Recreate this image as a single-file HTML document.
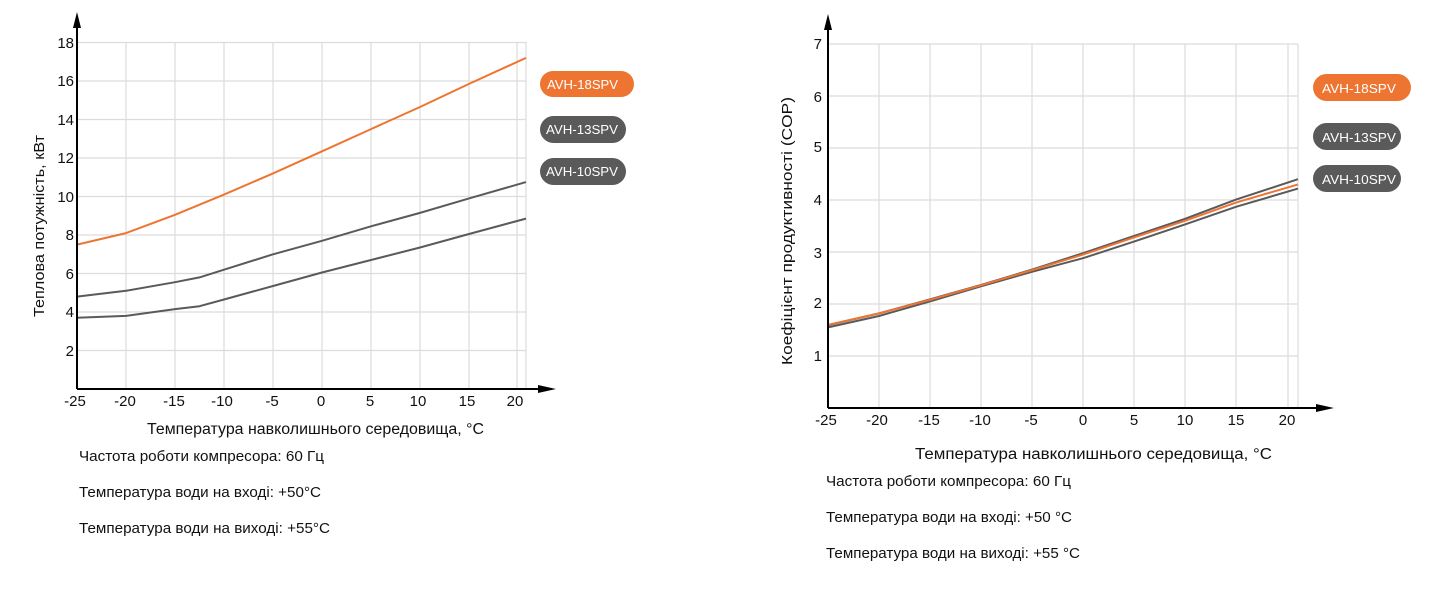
<!DOCTYPE html>
<html><head><meta charset="utf-8"><style>
html,body{margin:0;padding:0;background:#fff;width:1440px;height:592px;overflow:hidden}
svg text{font-family:"Liberation Sans",Arial,sans-serif}
</style></head><body>
<svg width="1440" height="592" viewBox="0 0 1440 592" xmlns="http://www.w3.org/2000/svg">
<!-- LEFT CHART -->
<g stroke="#dcdcdc" stroke-width="1.2">
<line x1="77" y1="42.5" x2="526" y2="42.5"/><line x1="77" y1="81" x2="526" y2="81"/><line x1="77" y1="119.5" x2="526" y2="119.5"/><line x1="77" y1="158" x2="526" y2="158"/><line x1="77" y1="196.5" x2="526" y2="196.5"/><line x1="77" y1="235" x2="526" y2="235"/><line x1="77" y1="273.5" x2="526" y2="273.5"/><line x1="77" y1="312" x2="526" y2="312"/><line x1="77" y1="350.5" x2="526" y2="350.5"/>
<line x1="126" y1="42" x2="126" y2="389"/><line x1="175" y1="42" x2="175" y2="389"/><line x1="224" y1="42" x2="224" y2="389"/><line x1="273" y1="42" x2="273" y2="389"/><line x1="322" y1="42" x2="322" y2="389"/><line x1="371" y1="42" x2="371" y2="389"/><line x1="420" y1="42" x2="420" y2="389"/><line x1="469" y1="42" x2="469" y2="389"/><line x1="517" y1="42" x2="517" y2="389"/><line x1="526" y1="42" x2="526" y2="389"/>
</g>
<g fill="none" stroke-width="2" stroke-linejoin="round">
<polyline stroke="#5a5a5a" points="77,317.8 126,315.9 175,309.1 199.5,306.2 224,299.5 273,286 322,272.5 371,260 420,247.5 469,234 526,218.6"/>
<polyline stroke="#5a5a5a" points="77,296.6 126,290.8 175,282.2 199.5,277.4 224,269.7 273,254.3 322,240.8 371,226.3 420,212.9 469,198.4 526,182.1"/>
<polyline stroke="#ee7531" points="77,244.6 126,233.1 175,214.8 224,194.6 273,173.4 322,151.3 371,129.1 420,107 469,83.9 526,57.9"/>
</g>
<line x1="77" y1="389" x2="77" y2="22" stroke="#000" stroke-width="2"/>
<polygon points="77,12 73,28 81,28" fill="#000"/>
<line x1="77" y1="389" x2="540" y2="389" stroke="#000" stroke-width="2"/>
<polygon points="556,389 538,385 538,393" fill="#000"/>
<g font-size="15" fill="#111" text-anchor="end">
<text x="74" y="48">18</text><text x="74" y="86">16</text><text x="74" y="125">14</text><text x="74" y="163">12</text><text x="74" y="202">10</text><text x="74" y="240">8</text><text x="74" y="279">6</text><text x="74" y="317">4</text><text x="74" y="356">2</text>
</g>
<g font-size="15" fill="#111" text-anchor="middle">
<text x="75" y="406">-25</text><text x="125" y="406">-20</text><text x="174" y="406">-15</text><text x="222" y="406">-10</text><text x="272" y="406">-5</text><text x="321" y="406">0</text><text x="370" y="406">5</text><text x="418" y="406">10</text><text x="467" y="406">15</text><text x="515" y="406">20</text>
</g>
<text x="147" y="434" font-size="15.5" fill="#111" textLength="337" lengthAdjust="spacingAndGlyphs">Температура навколишнього середовища, °C</text>
<text transform="translate(44,226) rotate(-90)" font-size="15" fill="#111" text-anchor="middle" textLength="182" lengthAdjust="spacingAndGlyphs">Теплова потужність, кВт</text>
<rect x="540" y="71" width="94" height="26" rx="13" fill="#ee7531"/>
<text x="547" y="89" font-size="13" fill="#fff" textLength="71" lengthAdjust="spacingAndGlyphs">AVH-18SPV</text>
<rect x="540" y="116" width="86" height="27" rx="13.5" fill="#5a5a5a"/>
<text x="546" y="134" font-size="13" fill="#fff" textLength="72" lengthAdjust="spacingAndGlyphs">AVH-13SPV</text>
<rect x="540" y="158" width="86" height="27" rx="13.5" fill="#5a5a5a"/>
<text x="546" y="176" font-size="13" fill="#fff" textLength="72" lengthAdjust="spacingAndGlyphs">AVH-10SPV</text>
<g font-size="14.5" fill="#111">
<text x="79" y="461" textLength="245" lengthAdjust="spacingAndGlyphs">Частота роботи компресора: 60 Гц</text>
<text x="79" y="497" textLength="242" lengthAdjust="spacingAndGlyphs">Температура води на вході: +50°C</text>
<text x="79" y="533" textLength="251" lengthAdjust="spacingAndGlyphs">Температура води на виході: +55°C</text>
</g>

<!-- RIGHT CHART -->
<g stroke="#dcdcdc" stroke-width="1.2">
<line x1="828" y1="44" x2="1298" y2="44"/><line x1="828" y1="96" x2="1298" y2="96"/><line x1="828" y1="148" x2="1298" y2="148"/><line x1="828" y1="200" x2="1298" y2="200"/><line x1="828" y1="252" x2="1298" y2="252"/><line x1="828" y1="304" x2="1298" y2="304"/><line x1="828" y1="356" x2="1298" y2="356"/>
<line x1="879" y1="44" x2="879" y2="408"/><line x1="930" y1="44" x2="930" y2="408"/><line x1="981" y1="44" x2="981" y2="408"/><line x1="1032" y1="44" x2="1032" y2="408"/><line x1="1083" y1="44" x2="1083" y2="408"/><line x1="1134" y1="44" x2="1134" y2="408"/><line x1="1185" y1="44" x2="1185" y2="408"/><line x1="1236" y1="44" x2="1236" y2="408"/><line x1="1288" y1="44" x2="1288" y2="408"/><line x1="1298" y1="44" x2="1298" y2="408"/>
</g>
<g fill="none" stroke-width="2" stroke-linejoin="round">
<polyline stroke="#5a5a5a" points="828,327.4 879,316 930,301.4 981,286.3 1032,271.8 1083,258.2 1134,241.6 1185,224.4 1236,206.8 1298,188.6"/>
<polyline stroke="#5a5a5a" points="828,325.2 879,313.4 930,299.4 981,285 1032,269.6 1083,253.2 1134,236 1185,218.8 1236,199.6 1298,179.2"/>
<polyline stroke="#ee7531" points="828,324.8 879,313.4 930,299.8 981,285.3 1032,270.2 1083,254.6 1134,237.4 1185,220.8 1236,202.6 1298,184.4"/>
</g>
<line x1="828" y1="408" x2="828" y2="28" stroke="#000" stroke-width="2"/>
<polygon points="828,14 824,30 832,30" fill="#000"/>
<line x1="828" y1="408" x2="1318" y2="408" stroke="#000" stroke-width="2"/>
<polygon points="1334,408 1316,404 1316,412" fill="#000"/>
<g font-size="15" fill="#111" text-anchor="end">
<text x="822" y="49">7</text><text x="822" y="102">6</text><text x="822" y="152">5</text><text x="822" y="205">4</text><text x="822" y="258">3</text><text x="822" y="308">2</text><text x="822" y="361">1</text>
</g>
<g font-size="15" fill="#111" text-anchor="middle">
<text x="826" y="425">-25</text><text x="877" y="425">-20</text><text x="929" y="425">-15</text><text x="980" y="425">-10</text><text x="1031" y="425">-5</text><text x="1083" y="425">0</text><text x="1134" y="425">5</text><text x="1185" y="425">10</text><text x="1236" y="425">15</text><text x="1287" y="425">20</text>
</g>
<text x="915" y="459" font-size="15.5" fill="#111" textLength="357" lengthAdjust="spacingAndGlyphs">Температура навколишнього середовища, °C</text>
<text transform="translate(792,231) rotate(-90)" font-size="15" fill="#111" text-anchor="middle" textLength="268" lengthAdjust="spacingAndGlyphs">Коефіцієнт продуктивності (COP)</text>
<rect x="1313" y="74" width="98" height="27" rx="13.5" fill="#ee7531"/>
<text x="1322" y="93" font-size="13" fill="#fff" textLength="74" lengthAdjust="spacingAndGlyphs">AVH-18SPV</text>
<rect x="1313" y="123" width="88" height="27" rx="13.5" fill="#5a5a5a"/>
<text x="1322" y="142" font-size="13" fill="#fff" textLength="74" lengthAdjust="spacingAndGlyphs">AVH-13SPV</text>
<rect x="1313" y="165" width="88" height="27" rx="13.5" fill="#5a5a5a"/>
<text x="1322" y="184" font-size="13" fill="#fff" textLength="74" lengthAdjust="spacingAndGlyphs">AVH-10SPV</text>
<g font-size="14.5" fill="#111">
<text x="826" y="486" textLength="245" lengthAdjust="spacingAndGlyphs">Частота роботи компресора: 60 Гц</text>
<text x="826" y="522" textLength="246" lengthAdjust="spacingAndGlyphs">Температура води на вході: +50 °C</text>
<text x="826" y="558" textLength="254" lengthAdjust="spacingAndGlyphs">Температура води на виході: +55 °C</text>
</g>
</svg>
</body></html>
